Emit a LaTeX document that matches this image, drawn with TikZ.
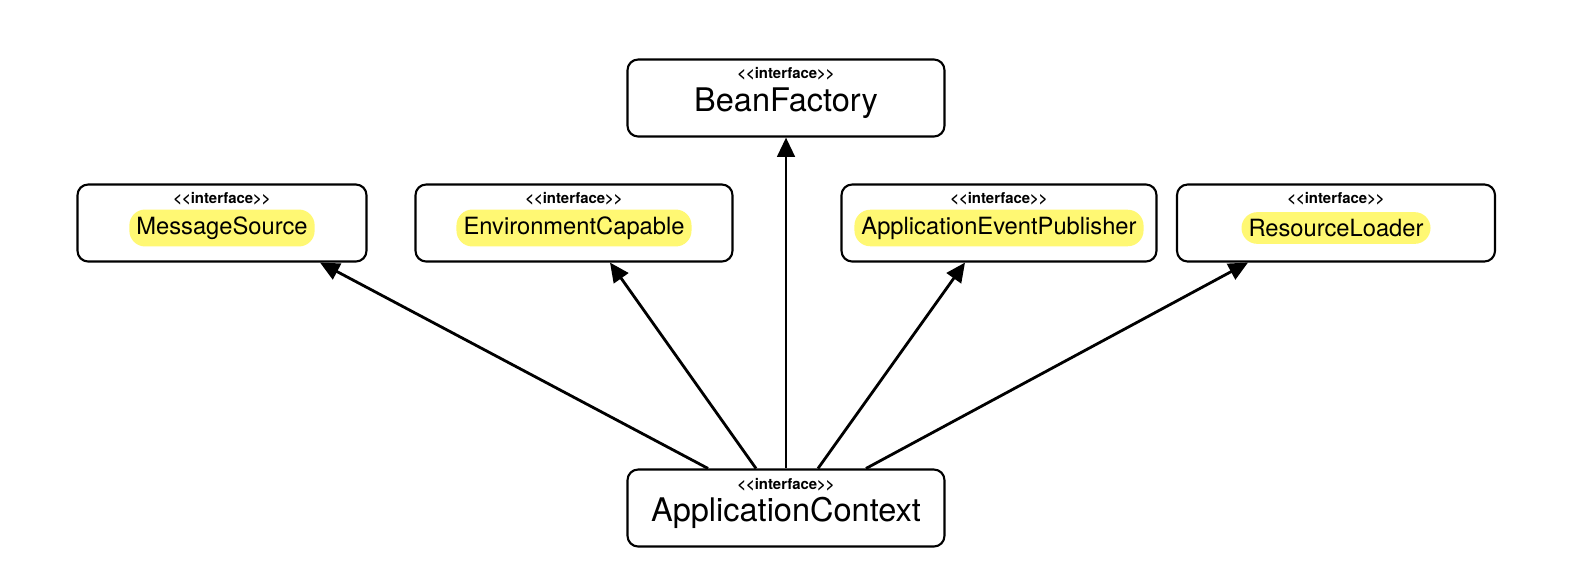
\documentclass[tikz,border=0pt]{standalone}
\usepackage{fontspec}
\setmainfont{TeX Gyre Heros}
\usetikzlibrary{arrows.meta,calc,positioning}
\tikzset{
  iface/.style = {draw, very thick, rounded corners=6pt, fill=white,
    minimum width=6.34cm, minimum height=1.54cm},
  stereo/.style = {font=\fontsize{8.5}{9}\selectfont\bfseries, inner sep=1pt},
  name_b/.style = {font=\fontsize{18.5}{20}\selectfont, inner sep=1pt},
  name_s/.style = {font=\fontsize{13.5}{15}\selectfont, inner sep=4pt},
  hl/.style = {name_s, fill=yellow!55, rounded corners=9pt},
  inh/.style = {line width=1.6pt, -{Triangle[length=11pt,width=10pt]}}
}
\newcommand{\stereotype}{{<}{<}interface{>}{>}}
\begin{document}
\begin{tikzpicture}[x=0.02cm,y=-0.02cm]
  \useasboundingbox (0,0) rectangle (1578,568);
  % top and bottom
  \node [iface] (bf) at (786,98) {};
  \node [stereo] (bf-st) at (786,74) {\stereotype};
  \node [name_b] at (786,103) {BeanFactory};
  \node [iface] (ac) at (786,508) {};
  \node [stereo] (ac-st) at (786,485) {\stereotype};
  \node [name_b] at (786,513) {ApplicationContext};
  % middle row
  \foreach \n/\x/\w/\t in {ms/222/5.78/MessageSource, ec/574/6.34/EnvironmentCapable,
      aep/999/6.3/ApplicationEventPublisher, rl/1336/6.36/ResourceLoader}{
    \node [iface, minimum width=\w cm] (\n) at (\x,223) {};
    \node [stereo] at (\x,199) {\stereotype};
    \node [hl] (\n-name) at (\x,228) {\t};
  }
  % inheritance
  \draw [inh] ($(ac.north)+(-78,0)$) -- ($(ms.south)+(98,0)$);
  \draw [inh] ($(ac.north)+(-30,0)$) -- ($(ec.south)+(36,0)$);
  \draw [inh] (ac.north) -- (bf.south);
  \draw [inh] ($(ac.north)+(32,0)$) -- ($(aep.south)+(-34,0)$);
  \draw [inh] ($(ac.north)+(80,0)$) -- ($(rl.south)+(-88,0)$);
\end{tikzpicture}
\end{document}
